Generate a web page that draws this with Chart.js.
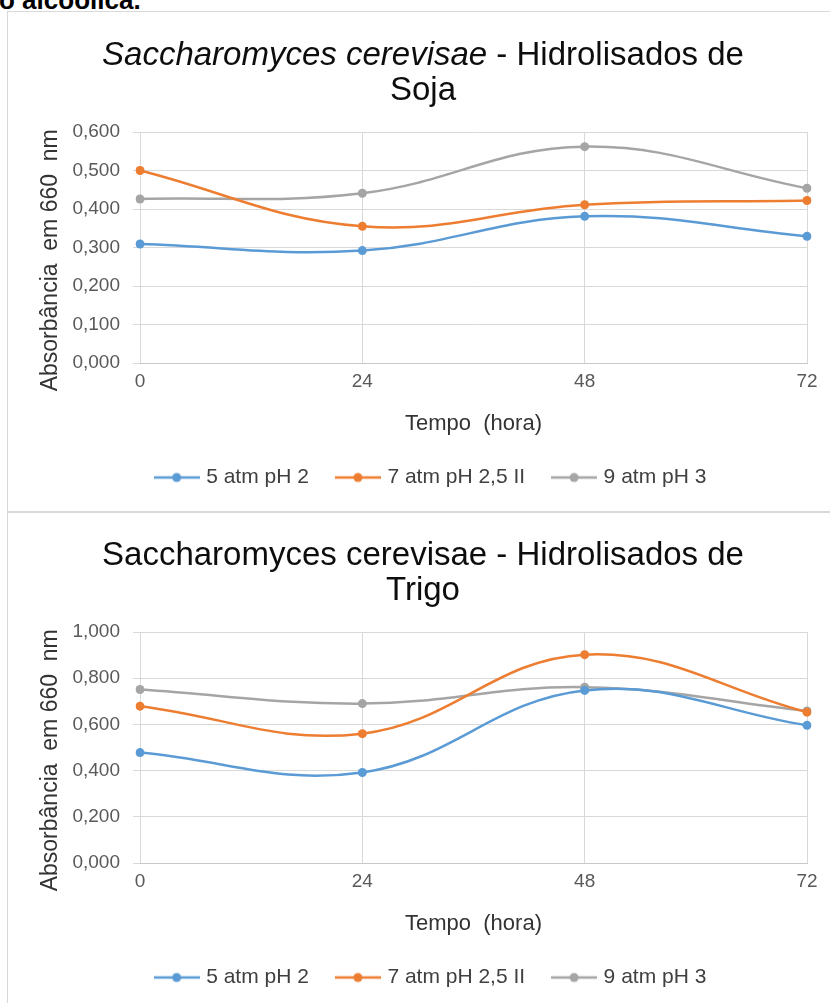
<!DOCTYPE html>
<html>
<head>
<meta charset="utf-8">
<script src="https://cdn.jsdelivr.net/npm/chart.js@4.4.0/dist/chart.umd.min.js"></script>
<style>
  body { margin: 0; width: 830px; height: 1003px; overflow: hidden; background: #fff; position: relative;
         font-family: "Liberation Sans", Arial, sans-serif; }
  .topo { position: absolute; left: -1px; top: -15px; font-size: 26px; line-height: 30px; font-weight: bold; color: #000; white-space: nowrap; }
  .painel { position: absolute; left: 7px; width: 840px; border: 1px solid #d9d9d9; box-sizing: border-box; }
  #painel1 { top: 11px; height: 502px; }
  #painel2 { top: 511px; height: 500px; }
  .caixa { position: absolute; left: 8px; width: 822px; }
  #caixa1 { top: 12px; height: 499px; }
  #caixa2 { top: 512px; height: 491px; }
  .titulo { position: absolute; left: 0; width: 846px; text-align: center; font-size: 33px; line-height: 35px; color: #0d0d0d; z-index: 2; }
  #titulo1 { top: 36px; }
  #titulo2 { top: 536px; }
</style>
</head>
<body>
<div class="topo">o alcoólica.</div>
<div class="painel" id="painel1"></div>
<div class="painel" id="painel2"></div>
<div class="titulo" id="titulo1"><i>Saccharomyces cerevisae</i> - Hidrolisados de<br>Soja</div>
<div class="titulo" id="titulo2">Saccharomyces cerevisae - Hidrolisados de<br>Trigo</div>
<div class="caixa" id="caixa1"><canvas id="graficoSoja" width="822" height="499"></canvas></div>
<div class="caixa" id="caixa2"><canvas id="graficoTrigo" width="822" height="491"></canvas></div>
<script>
// Tempo (hora)
const tempos = ['0', '24', '48', '72'];
const nomesSeries = ['5 atm pH 2', '7 atm pH 2,5 II', '9 atm pH 3'];
const cores = ['#5b9bd5', '#ed7d31', '#a5a5a5'];

// Hidrolisados de soja
const soja5atm = [0.309, 0.292, 0.381, 0.329];
const soja7atm = [0.500, 0.355, 0.411, 0.422];
const soja9atm = [0.426, 0.441, 0.562, 0.454];

// Hidrolisados de trigo
const trigo5atm = [0.478, 0.392, 0.747, 0.596];
const trigo7atm = [0.679, 0.560, 0.902, 0.653];
const trigo9atm = [0.751, 0.690, 0.761, 0.658];

const fonte = '"Liberation Sans", Arial, sans-serif';

// marcador da legenda: linha com ponto no meio
function marcador(cor) {
    const c = document.createElement('canvas');
    c.width = 46; c.height = 12;
    const ctx = c.getContext('2d');
    ctx.strokeStyle = cor;
    ctx.lineWidth = 2.5;
    ctx.beginPath(); ctx.moveTo(0, 6); ctx.lineTo(46, 6); ctx.stroke();
    ctx.fillStyle = cor;
    ctx.beginPath(); ctx.arc(23, 6, 4.5, 0, Math.PI * 2); ctx.fill();
    return c;
}
const marcadores = cores.map(marcador);

const formatar = (v) => v.toFixed(3).replace('.', ',');

function criarGrafico(id, series, yMax, passo, paddingBaixo) {
    return new Chart(document.getElementById(id), {
        type: 'line',
        data: {
            labels: tempos,
            datasets: series.map((s, i) => ({
                label: nomesSeries[i],
                data: s,
                borderColor: cores[i],
                backgroundColor: cores[i],
                pointBackgroundColor: cores[i],
                pointBorderWidth: 0,
                pointRadius: 4.5,
                borderWidth: 2.5,
                tension: 0.4,
                fill: false
            }))
        },
        options: {
            responsive: false,
            animation: false,
            // padding esquerdo maior para a legenda ficar centrada como no original
            layout: { padding: { top: 120, right: 23, bottom: paddingBaixo, left: 49 } },
            plugins: {
                title: { display: false },
                tooltip: { enabled: false },
                legend: {
                    position: 'bottom',
                    labels: {
                        usePointStyle: true,
                        pointStyleWidth: 38,
                        padding: 30,
                        color: '#404040',
                        font: { family: fonte, size: 21 },
                        generateLabels: (chart) => Chart.defaults.plugins.legend.labels.generateLabels(chart)
                            .map((item, i) => ({ ...item, pointStyle: marcadores[i] }))
                    }
                }
            },
            scales: {
                x: {
                    afterFit: (escala) => { escala.height = 74; },
                    grid: { color: '#d9d9d9', drawTicks: false },
                    border: { color: '#c8c8c8' },
                    ticks: { color: '#595959', padding: 7, font: { family: fonte, size: 19 }, maxRotation: 0 },
                    title: { display: true, text: 'Tempo  (hora)', color: '#333', padding: { top: 0, bottom: 0 }, font: { family: fonte, size: 22 } }
                },
                y: {
                    min: 0,
                    max: yMax,
                    afterFit: (escala) => { escala.width = 83; },
                    grid: { color: '#d9d9d9', tickLength: 7 },
                    border: { display: false },
                    ticks: { stepSize: passo, color: '#595959', padding: 13, font: { family: fonte, size: 19 }, callback: formatar },
                    title: { display: true, text: 'Absorbância  em 660  nm    ', color: '#333', padding: { top: -20, bottom: 0 }, font: { family: fonte, size: 23 } }
                }
            }
        }
    });
}

criarGrafico('graficoSoja', [soja5atm, soja7atm, soja9atm], 0.6, 0.1, 13);
criarGrafico('graficoTrigo', [trigo5atm, trigo7atm, trigo9atm], 1.0, 0.2, 5);
</script>
</body>
</html>
